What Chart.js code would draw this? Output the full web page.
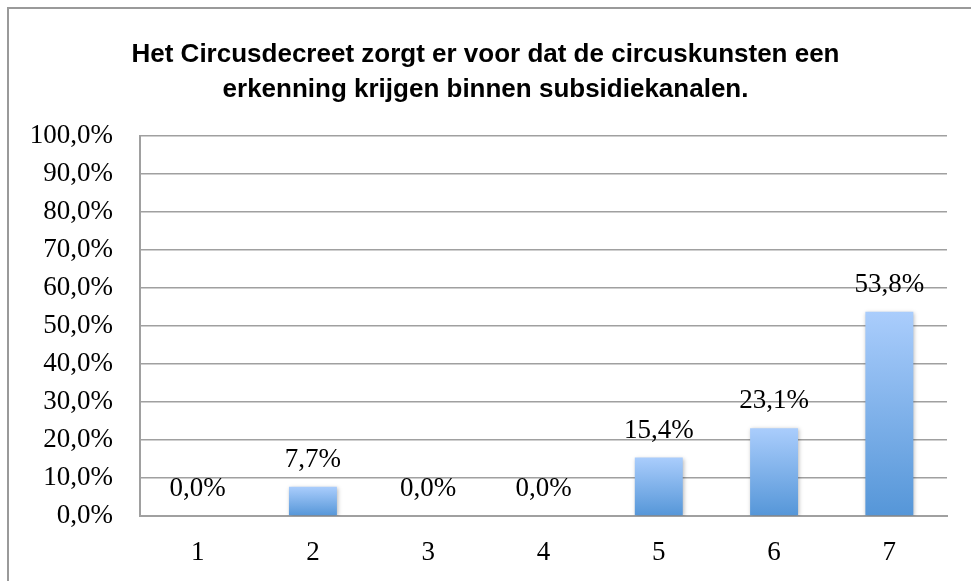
<!DOCTYPE html>
<html>
<head>
<meta charset="utf-8">
<script src="https://cdn.jsdelivr.net/npm/chart.js@4.4.0/dist/chart.umd.min.js"></script>
<style>
  html, body { margin: 0; padding: 0; background: #fff; }
  #wrap { width: 971px; height: 581px; position: relative; }
</style>
</head>
<body>
<div id="wrap"><canvas id="c" width="971" height="581"></canvas></div>
<script>
const categories = ['1', '2', '3', '4', '5', '6', '7'];
const values = [0.0, 7.7, 0.0, 0.0, 15.4, 23.1, 53.8];
const yTicks = [0, 10, 20, 30, 40, 50, 60, 70, 80, 90, 100];
const titleLines = ['Het Circusdecreet zorgt er voor dat de circuskunsten een', 'erkenning krijgen binnen subsidiekanalen.'];

const fmt = v => v.toFixed(1).replace('.', ',') + '%';
const serif = "'Liberation Serif', 'DejaVu Serif', serif";

const borderPlugin = {
  id: 'outerBorder',
  beforeDraw(chart) {
    const ctx = chart.ctx;
    ctx.save();
    ctx.fillStyle = '#fff';
    ctx.fillRect(0, 0, chart.width, chart.height);
    ctx.strokeStyle = '#9a9a9a';
    ctx.lineWidth = 2;
    ctx.strokeRect(8, 8, chart.width + 50, chart.height + 50);
    ctx.restore();
  }
};

const shadowPlugin = {
  id: 'barShadow',
  beforeDatasetDraw(chart) {
    const ctx = chart.ctx;
    ctx.save();
    ctx.shadowColor = 'rgba(0,0,0,0.28)';
    ctx.shadowBlur = 4;
    ctx.shadowOffsetX = 1;
    ctx.shadowOffsetY = 1;
  },
  afterDatasetDraw(chart) {
    chart.ctx.restore();
  }
};

const labelPlugin = {
  id: 'valueLabels',
  afterDatasetsDraw(chart) {
    const ctx = chart.ctx;
    const meta = chart.getDatasetMeta(0);
    ctx.save();
    ctx.font = '27px ' + serif;
    ctx.fillStyle = '#000';
    ctx.textAlign = 'center';
    ctx.textBaseline = 'middle';
    meta.data.forEach((el, i) => {
      ctx.fillText(fmt(values[i]), el.x, el.y - 27);
    });
    ctx.restore();
  }
};

new Chart(document.getElementById('c'), {
  type: 'bar',
  data: {
    labels: categories,
    datasets: [{
      data: values,
      backgroundColor(context) {
        const chart = context.chart;
        const y = chart.scales && chart.scales.y;
        if (!chart.chartArea || !y) return '#7fb0ea';
        const v = context.parsed ? context.parsed.y : values[context.dataIndex];
        const top = y.getPixelForValue(v);
        const bottom = y.getPixelForValue(0);
        if (bottom - top < 1) return '#5596d8';
        const g = chart.ctx.createLinearGradient(0, top, 0, bottom);
        g.addColorStop(0, '#aacdfc');
        g.addColorStop(1, '#5596d8');
        return g;
      },
      borderWidth: 0,
      categoryPercentage: 1.0,
      barPercentage: 0.416
    }]
  },
  options: {
    responsive: false,
    animation: false,
    layout: { padding: { left: 0, right: 0, top: 0, bottom: 0 } },
    plugins: {
      legend: { display: false },
      tooltip: { enabled: false },
      title: {
        display: true,
        text: titleLines,
        color: '#000',
        font: { family: "'Liberation Sans', Arial, sans-serif", size: 26, weight: 'bold', lineHeight: 1.35 },
        padding: { top: 37, bottom: 29 }
      }
    },
    scales: {
      x: {
        grid: { display: false, drawTicks: false },
        border: { display: true, color: '#a0a0a0', width: 2 },
        ticks: { color: '#000', font: { family: serif, size: 27 }, padding: 21 },
        afterFit(scale) { scale.height = 65; }
      },
      y: {
        min: 0,
        max: 100,
        afterBuildTicks(scale) { scale.ticks = yTicks.map(v => ({ value: v })); },
        grid: { color: '#a0a0a0', lineWidth: 1.5, drawTicks: false },
        border: { display: true, color: '#a0a0a0', width: 2 },
        ticks: { color: '#000', font: { family: serif, size: 27 }, padding: 27, callback: v => fmt(v) },
        afterFit(scale) { scale.width = 140; }
      },
      yRight: {
        position: 'right',
        display: true,
        min: 0,
        max: 100,
        grid: { display: false, drawTicks: false },
        border: { display: false },
        ticks: { display: false },
        afterFit(scale) { scale.width = 24; }
      }
    }
  },
  plugins: [borderPlugin, shadowPlugin, labelPlugin]
});
</script>
</body>
</html>
